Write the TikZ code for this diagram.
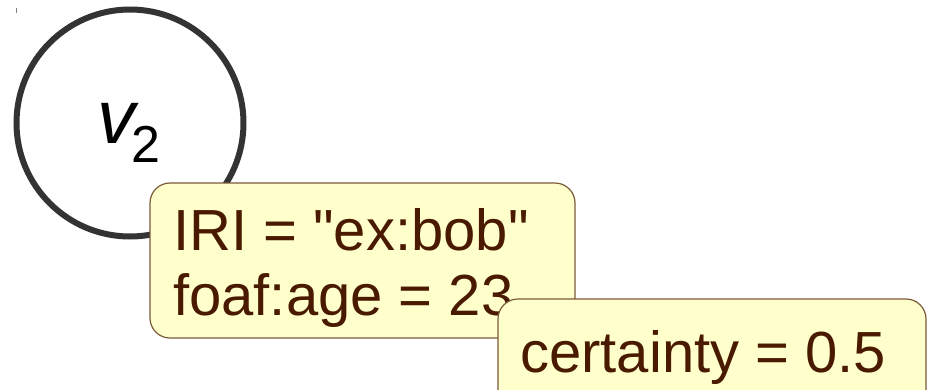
\documentclass[tikz,border=0pt]{standalone}
\usepackage{fontspec}
\setmainfont{Liberation Sans}
\newfontfamily\lsans{Liberation Sans}
\definecolor{boxfill}{HTML}{FFFFCC}
\definecolor{boxline}{HTML}{7A5A3A}
\definecolor{boxtext}{HTML}{4A1A00}
\definecolor{ringcol}{HTML}{333333}
\begin{document}
\begin{tikzpicture}[x=1pt,y=-1pt,
  ring/.style={circle,draw=ringcol,line width=6pt,fill=white,inner sep=0pt},
  propbox/.style={rectangle,rounded corners=20pt,draw=boxline,line width=1.2pt,fill=boxfill,inner sep=0pt},
  proptext/.style={anchor=base west,inner sep=0pt,text=boxtext,font=\lsans\fontsize{58}{58}\selectfont},
]
\useasboundingbox (0,0) rectangle (927,389);
\fill[white] (0,0) rectangle (927,389);
% tiny mark
\coordinate (m1) at (16.5,8);
\coordinate (m2) at (16.5,13);
\draw[gray,line width=0.8pt] (m1) -- (m2);
% vertex
\node[ring,minimum size=227pt] (v2) at (130,123) {};
\node[anchor=base west,inner sep=0pt] (vlbl) at (97,143)
  {{\fontsize{76}{76}\selectfont\itshape v}\hspace{-4pt}\raisebox{-19pt}{\fontsize{52}{52}\selectfont 2}};
% first box
\node[propbox,minimum width=425pt,minimum height=155pt] (box1) at (362.5,260.5) {};
\node[proptext] (l1) at (173,250) {IRI = "ex:bob"};
\node[proptext] (l2) at (173,315) {foaf:age = 23};
% second box
\node[propbox,minimum width=428pt,minimum height=130pt] (box2) at (712,364) {};
\node[proptext] (l3) at (520,372) {certainty = 0.5};
\end{tikzpicture}
\end{document}
